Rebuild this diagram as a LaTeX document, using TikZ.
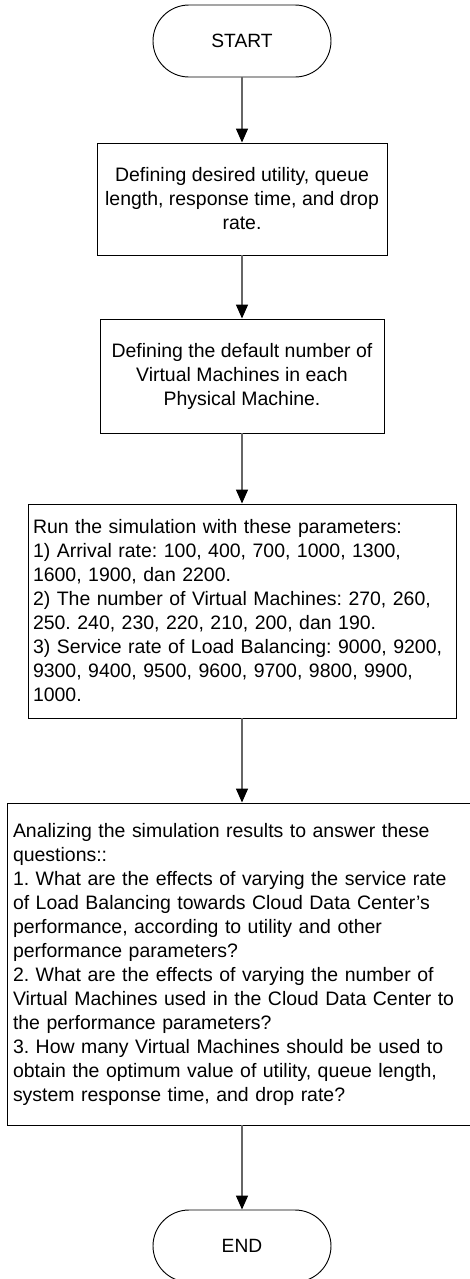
\documentclass[tikz,border=0pt]{standalone}
\usepackage{fontspec}
\setmainfont{Liberation Sans}
\usetikzlibrary{arrows.meta}
\frenchspacing
\tikzset{
  term/.style={draw=black, line width=0.7pt, rounded corners=27pt, minimum width=133.5pt, minimum height=54pt, inner sep=0pt, font=\fontsize{14.4pt}{18pt}\selectfont},
  procbox/.style={draw=black, line width=0.7pt, inner sep=0pt, align=center, font=\fontsize{14.6pt}{18pt}\selectfont},
  textbox/.style={draw=black, line width=0.7pt, inner ysep=0pt, align=left, font=\fontsize{14.6pt}{18pt}\selectfont},
  flow/.style={draw=black!60, line width=1.1pt, -{Triangle[width=9pt,length=10.5pt,color=black]}}
}
\begin{document}
\begin{tikzpicture}[x=0.75pt,y=-0.75pt]
\useasboundingbox (0,0) rectangle (470,1279);
\clip (0,0) rectangle (470,1279);
\node[term] (start) at (242,41) {START};
\node[procbox, minimum width=217.5pt, minimum height=84pt] (def1) at (242,199)
  {Defining desired utility, queue\\length, response time, and drop\\rate.};
\node[procbox, minimum width=213pt, minimum height=85.5pt] (def2) at (242,376)
  {Defining the default number of\\Virtual Machines in each\\Physical Machine.};
\node[textbox, inner xsep=3.75pt, text width=313.5pt, minimum height=160.5pt] (run) at (242,611)
  {Run the simulation with these parameters:\\
   1) Arrival rate: 100, 400, 700, 1000, 1300,\\
   1600, 1900, dan 2200.\\
   2) The number of Virtual Machines: 270, 260,\\
   250. 240, 230, 220, 210, 200, dan 190.\\
   3) Service rate of Load Balancing: 9000, 9200,\\
   9300, 9400, 9500, 9600, 9700, 9800, 9900,\\
   1000.};
\node[textbox, inner xsep=4.5pt, text width=343.5pt, minimum height=241.5pt] (ana) at (242,964)
  {Analizing the simulation results to answer these\\
   questions::\\
   1. What are the effects of varying the service rate\\
   of Load Balancing towards Cloud Data Center’s\\
   performance, according to utility and other\\
   performance parameters?\\
   2. What are the effects of varying the number of\\
   Virtual Machines used in the Cloud Data Center to\\
   the performance parameters?\\
   3. How many Virtual Machines should be used to\\
   obtain the optimum value of utility, queue length,\\
   system response time, and drop rate?};
\node[term] (end) at (242,1246) {END};
\draw[flow] (start) -- (def1);
\draw[flow] (def1) -- (def2);
\draw[flow] (def2) -- (run);
\draw[flow] (run) -- (ana);
\draw[flow] (ana) -- (end);
\end{tikzpicture}
\end{document}
